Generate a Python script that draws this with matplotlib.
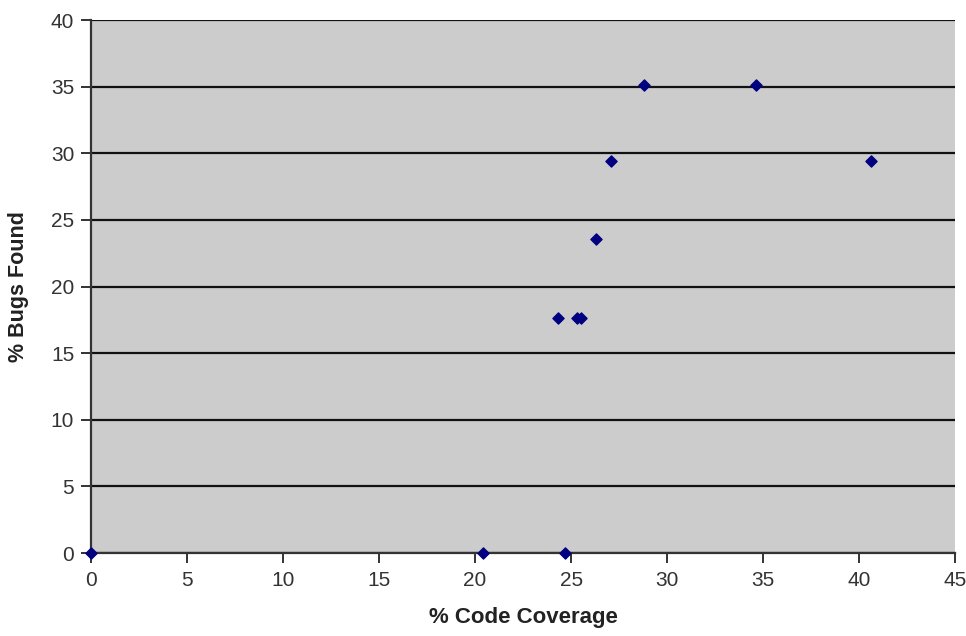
import matplotlib
matplotlib.use("Agg")
import matplotlib.pyplot as plt

plt.rcParams['font.family'] = ['Liberation Sans', 'DejaVu Sans']

coverage = [0, 20.4, 24.7, 24.3, 25.3, 25.5, 26.3, 27.1, 28.8, 34.6, 40.6]
bugs_found = [0, 0, 0, 17.6, 17.6, 17.6, 23.6, 29.4, 35.1, 35.1, 29.4]

fig = plt.figure(figsize=(9.66, 6.36), dpi=100)
ax = fig.add_axes([0.094, 0.1305, 0.895, 0.838])
ax.set_facecolor('#cccccc')

ax.scatter(coverage, bugs_found, marker='D', s=32, color='#000080', zorder=3, clip_on=False)

ax.set_xlim(0, 45)
ax.set_ylim(0, 40)
ax.set_xticks(range(0, 46, 5))
ax.set_yticks(range(0, 41, 5))
ax.yaxis.grid(True, color='#111111', linewidth=1.6)
ax.set_axisbelow(True)

for side in ['top', 'right']:
    ax.spines[side].set_visible(False)
for side in ['left', 'bottom']:
    ax.spines[side].set_color('#333333')
    ax.spines[side].set_linewidth(1.6)

ax.tick_params(direction='out', length=7, width=1.4, color='#333333',
               labelsize=15, labelcolor='#333333')
ax.tick_params(axis='x', pad=6)
ax.tick_params(axis='y', pad=5)

ax.set_xlabel('% Code Coverage', fontsize=16, fontweight='bold', color='#222222', labelpad=12)
ax.set_ylabel('% Bugs Found', fontsize=15.5, fontweight='bold', color='#222222', labelpad=16)

fig.savefig('out.png', dpi=100)
